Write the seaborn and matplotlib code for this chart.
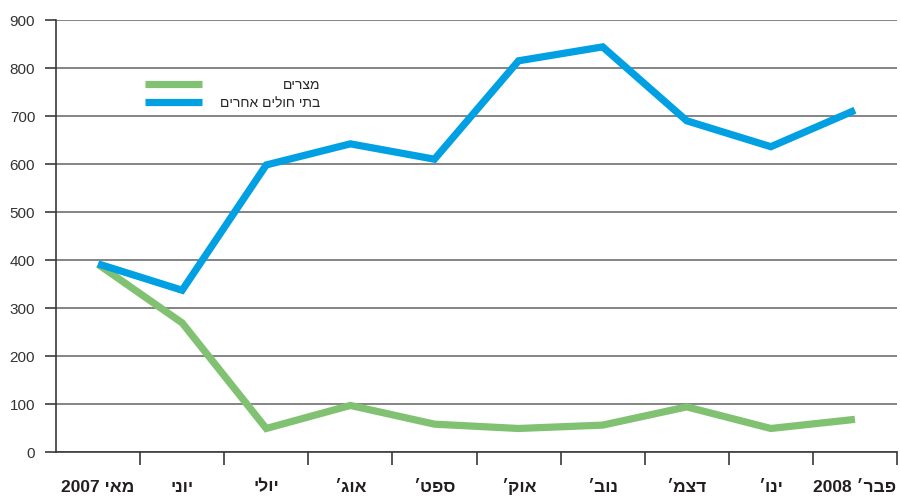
import numpy as np
import pandas as pd
import matplotlib
matplotlib.use("Agg")
import matplotlib.pyplot as plt
import seaborn as sns

# data
months = ["מאי 2007", "יוני", "יולי", "אוג׳", "ספט׳", "אוק׳", "נוב׳", "דצמ׳", "ינו׳", "פבר׳ 2008"]
egypt = [391, 269, 49, 97, 58, 49, 56, 94, 49, 68]
other_hosp = [392, 337, 598, 642, 610, 815, 844, 690, 636, 712]
series_names = ["מצרים", "בתי חולים אחרים"]
colors = ["#80c172", "#00a0e3"]
yticks = [0, 100, 200, 300, 400, 500, 600, 700, 800, 900]


def heb(s):
    # matplotlib has no bidi support: put hebrew words in visual order by hand
    words = s.split(" ")
    out = [w if w.isdigit() else w[::-1] for w in words]
    return " ".join(out[::-1])


labels = [heb(m) for m in months]
names = [heb(n) for n in series_names]

df = pd.DataFrame({
    "month": labels * 2,
    "value": egypt + other_hosp,
    "series": [names[0]] * len(labels) + [names[1]] * len(labels),
})

sns.set_style("white")
plt.rcParams['font.family'] = ['Liberation Sans', 'DejaVu Sans']

fig = plt.figure(figsize=(9, 4.98), dpi=100)
ax = fig.add_axes([56 / 900, 1 - 452 / 498, 841 / 900, 432 / 498])

sns.lineplot(data=df, x="month", y="value", hue="series", hue_order=names,
             palette=colors, linewidth=5.2, sort=False, ax=ax,
             solid_capstyle="butt", solid_joinstyle="miter")

ax.set_xlim(-0.5, len(labels) - 0.5)
ax.set_ylim(0, 900)
ax.set_yticks(yticks)
ax.yaxis.grid(True, color="#6f6f6f", linewidth=1.2)
ax.set_axisbelow(True)
ax.set_xlabel("")
ax.set_ylabel("")

for side in ["top", "right"]:
    ax.spines[side].set_visible(False)
for side in ["left", "bottom"]:
    ax.spines[side].set_color("#3a3a3a")
    ax.spines[side].set_linewidth(1.2)

ax.tick_params(axis="y", direction="out", length=8, width=1.2, color="#3a3a3a",
               labelsize=11, labelcolor="#333333", pad=7, left=True)
ax.set_xticks(range(len(labels)))
ax.set_xticklabels(labels, fontweight="bold", fontsize=12.5, color="#231f20",
                   va="baseline")
ax.tick_params(axis="x", which="major", length=0, pad=28.5)
ax.set_xticks(np.arange(len(labels)) + 0.5, minor=True)
ax.tick_params(axis="x", which="minor", direction="out", length=9.5, width=1.2,
               color="#3a3a3a", bottom=True)

# legend: line first, hebrew text right aligned after it
handles, _ = ax.get_legend_handles_labels()
ax.get_legend().remove()
leg = ax.legend(handles, names, loc="upper left", bbox_to_anchor=(0.106, 0.866),
                frameon=False, fontsize=10, handlelength=4.1, handletextpad=1.3,
                labelspacing=0.3, borderpad=0, borderaxespad=0)
for line in leg.get_lines():
    line.set_linewidth(5.2)
    line.set_solid_capstyle("butt")

fig.canvas.draw()
r = fig.canvas.get_renderer()
widths = [t.get_window_extent(r).width for t in leg.get_texts()]
rows = leg._legend_handle_box.get_children()[0].get_children()
for row, w in zip(rows, widths):
    row.sep += (max(widths) - w) / r.points_to_pixels(1.0)

fig.savefig("out.png", dpi=100)
